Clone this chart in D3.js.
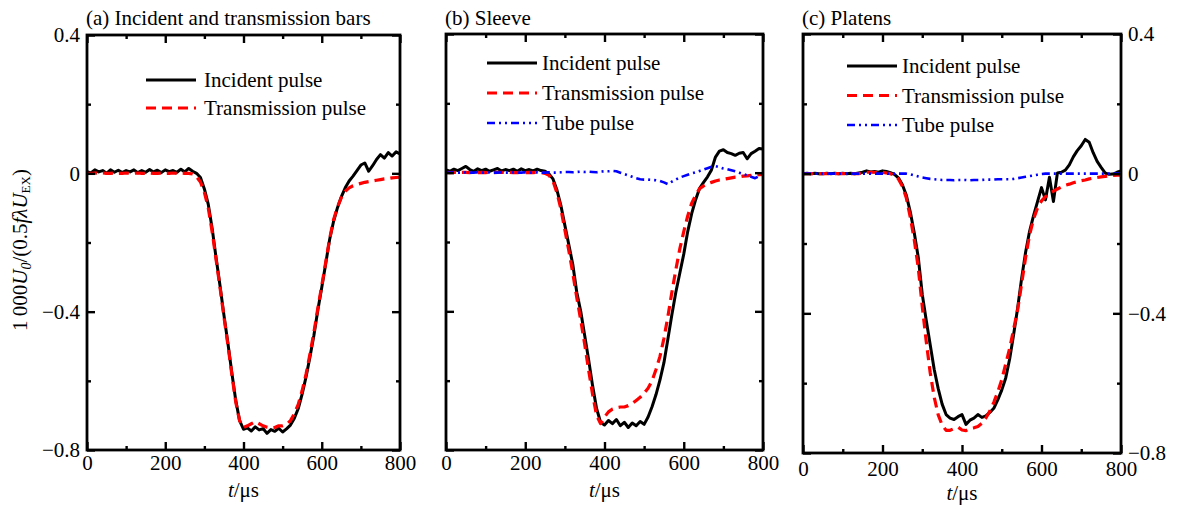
<!DOCTYPE html>
<html>
<head>
<meta charset="utf-8">
<script src="https://cdn.jsdelivr.net/npm/d3@7"></script>
<style>
  body { margin: 0; background: #fff; }
  svg text { font-family: "Liberation Serif", "DejaVu Serif", serif; }
</style>
</head>
<body>
<svg id="chart" width="1181" height="508"></svg>
<script>
// sample times (µs), one value every 10 µs
var times = d3.range(0, 801, 10);

// (a) incident and transmission bars
var aIncident = [
  0.005, 0.001, 0.010, 0.004, 0.008, 0.000, 0.010, 0.003, 0.009,
  0.002, 0.008, 0.004, 0.010, 0.002, 0.008, 0.003, 0.011, 0.004,
  0.009, 0.002, 0.010, 0.005, 0.008, 0.003, 0.012, 0.004, 0.014,
  0.006, 0.000, -0.012, -0.045, -0.090, -0.160, -0.245, -0.325, -0.410,
  -0.490, -0.575, -0.655, -0.715, -0.740, -0.736, -0.745, -0.733, -0.742,
  -0.738, -0.752, -0.741, -0.746, -0.737, -0.748, -0.739, -0.728, -0.708,
  -0.680, -0.638, -0.588, -0.530, -0.468, -0.395, -0.330, -0.262, -0.192,
  -0.140, -0.100, -0.068, -0.042, -0.022, -0.008, 0.008, 0.024, 0.030,
  0.006, 0.022, 0.040, 0.054, 0.044, 0.060, 0.050, 0.062, 0.056
];
var aTransmission = [
  0.000, 0.000, 0.001, 0.000, 0.001, 0.000, 0.000, 0.001, 0.000,
  0.000, 0.001, 0.000, 0.000, 0.001, 0.000, 0.000, 0.001, 0.000,
  0.000, 0.001, 0.000, 0.000, 0.001, 0.000, 0.001, 0.000, 0.000,
  -0.002, -0.010, -0.025, -0.055, -0.100, -0.170, -0.250, -0.330, -0.415,
  -0.495, -0.580, -0.660, -0.715, -0.735, -0.730, -0.724, -0.718, -0.724,
  -0.730, -0.734, -0.736, -0.735, -0.730, -0.730, -0.726, -0.715, -0.695,
  -0.668, -0.628, -0.580, -0.522, -0.460, -0.390, -0.325, -0.258, -0.190,
  -0.135, -0.098, -0.070, -0.052, -0.042, -0.036, -0.032, -0.029, -0.026,
  -0.024, -0.022, -0.020, -0.018, -0.016, -0.015, -0.013, -0.012, -0.011
];

// (b) sleeve
var bIncident = [
  0.008, 0.004, 0.010, 0.006, 0.012, 0.018, 0.009, 0.004, 0.011,
  0.006, 0.010, 0.004, 0.008, 0.012, 0.005, 0.009, 0.006, 0.010,
  0.004, 0.011, 0.006, 0.009, 0.005, 0.010, 0.006, 0.004, -0.004,
  -0.018, -0.050, -0.095, -0.152, -0.208, -0.265, -0.345, -0.400, -0.470,
  -0.540, -0.615, -0.680, -0.720, -0.728, -0.715, -0.724, -0.712, -0.730,
  -0.720, -0.735, -0.722, -0.730, -0.718, -0.726, -0.705, -0.675, -0.640,
  -0.598, -0.548, -0.480, -0.410, -0.345, -0.290, -0.235, -0.170, -0.118,
  -0.078, -0.045, -0.028, -0.012, 0.008, 0.045, 0.062, 0.066, 0.058,
  0.055, 0.050, 0.056, 0.058, 0.040, 0.055, 0.062, 0.070, 0.068
];
var bTransmission = [
  0.001, 0.000, 0.001, 0.000, 0.001, 0.001, 0.000, 0.001, 0.000,
  0.001, 0.000, 0.001, 0.000, 0.001, 0.001, 0.000, 0.001, 0.000,
  0.000, 0.001, 0.000, 0.001, 0.000, 0.001, 0.000, -0.002, -0.008,
  -0.024, -0.058, -0.105, -0.165, -0.225, -0.290, -0.360, -0.425, -0.495,
  -0.570, -0.640, -0.700, -0.724, -0.705, -0.690, -0.682, -0.678, -0.676,
  -0.676, -0.672, -0.666, -0.657, -0.648, -0.636, -0.622, -0.600, -0.568,
  -0.530, -0.478, -0.415, -0.345, -0.280, -0.220, -0.170, -0.125, -0.088,
  -0.065, -0.046, -0.038, -0.032, -0.028, -0.024, -0.021, -0.019, -0.017,
  -0.015, -0.013, -0.012, -0.010, -0.009, -0.008, -0.007, -0.006, -0.005
];
var bTube = [
  0.000, 0.000, 0.001, 0.000, 0.000, 0.001, 0.000, 0.000, 0.001,
  0.000, 0.000, 0.001, 0.000, 0.000, 0.001, 0.000, 0.000, 0.001,
  0.000, 0.000, 0.001, 0.000, 0.000, 0.001, 0.000, 0.000, 0.001,
  0.000, 0.000, 0.001, 0.002, 0.002, 0.001, 0.002, 0.003, 0.002,
  0.003, 0.002, 0.001, 0.003, 0.004, 0.004, 0.005, 0.004, 0.000,
  -0.004, -0.008, -0.012, -0.016, -0.019, -0.020, -0.020, -0.021, -0.022,
  -0.024, -0.028, -0.033, -0.026, -0.020, -0.014, -0.010, -0.006, -0.002,
  0.001, 0.005, 0.009, 0.013, 0.017, 0.019, 0.016, 0.012, 0.010,
  0.007, 0.004, 0.000, -0.004, -0.008, -0.012, -0.016, -0.010, -0.004
];

// (c) platens
var cIncident = [
  0.000, 0.001, 0.000, 0.001, 0.000, 0.000, 0.001, 0.000, 0.001,
  0.000, 0.001, 0.000, 0.001, 0.000, 0.002, 0.004, 0.008, 0.005,
  0.006, 0.004, 0.008, 0.006, 0.003, -0.002, -0.012, -0.032, -0.062,
  -0.110, -0.170, -0.240, -0.345, -0.420, -0.490, -0.560, -0.615, -0.660,
  -0.690, -0.700, -0.704, -0.696, -0.690, -0.718, -0.706, -0.700, -0.690,
  -0.698, -0.694, -0.684, -0.672, -0.648, -0.620, -0.585, -0.530, -0.460,
  -0.385, -0.300, -0.225, -0.165, -0.120, -0.080, -0.040, -0.075, -0.010,
  -0.080, 0.002, 0.004, 0.010, 0.025, 0.048, 0.066, 0.080, 0.098,
  0.090, 0.060, 0.035, 0.018, 0.002, -0.002, -0.001, 0.004, 0.008
];
var cTransmission = [
  0.000, 0.000, 0.000, 0.000, 0.000, 0.000, 0.000, 0.000, 0.000,
  0.000, 0.000, 0.000, 0.000, 0.000, 0.000, 0.002, 0.004, 0.004,
  0.004, 0.003, 0.004, 0.002, 0.000, -0.004, -0.015, -0.036, -0.070,
  -0.125, -0.190, -0.270, -0.380, -0.480, -0.570, -0.640, -0.690, -0.720,
  -0.735, -0.735, -0.730, -0.726, -0.734, -0.736, -0.730, -0.728, -0.724,
  -0.715, -0.700, -0.680, -0.655, -0.625, -0.590, -0.545, -0.500, -0.445,
  -0.390, -0.315, -0.240, -0.175, -0.130, -0.098, -0.078, -0.066, -0.058,
  -0.050, -0.044, -0.038, -0.033, -0.030, -0.026, -0.023, -0.020, -0.018,
  -0.015, -0.013, -0.011, -0.009, -0.008, -0.006, -0.005, -0.004, -0.004
];
var cTube = [
  0.000, 0.000, 0.000, 0.000, 0.000, 0.000, 0.000, 0.000, 0.000,
  0.000, 0.000, 0.000, 0.000, 0.000, 0.000, 0.000, 0.000, 0.000,
  0.000, 0.000, 0.000, 0.000, 0.000, 0.000, 0.000, 0.000, 0.000,
  -0.002, -0.005, -0.008, -0.011, -0.013, -0.015, -0.016, -0.017, -0.018,
  -0.018, -0.018, -0.019, -0.018, -0.018, -0.018, -0.019, -0.018, -0.018,
  -0.018, -0.017, -0.017, -0.017, -0.016, -0.016, -0.016, -0.016, -0.015,
  -0.013, -0.011, -0.009, -0.007, -0.005, -0.003, -0.001, 0.000, 0.000,
  0.000, 0.000, 0.000, 0.000, 0.000, 0.000, 0.000, 0.000, 0.000,
  0.000, 0.000, 0.000, 0.000, 0.000, 0.000, 0.000, 0.000, 0.000
];

var xMajor = [0, 200, 400, 600, 800];
var xMinor = [100, 300, 500, 700];
var yMajor = [0.4, 0, -0.4, -0.8];
var yMinor = [0.2, -0.2, -0.6];

var panelTitles = ['(a) Incident and transmission bars', '(b) Sleeve', '(c) Platens'];
var legendLabels = ['Incident pulse', 'Transmission pulse', 'Tube pulse'];

/**
 * Layout and styles
 */
var FONT = 21;
var SERIF = '"Liberation Serif", "DejaVu Serif", serif';

var styles = [
  { color: '#000', width: 3, dash: null },
  { color: '#ff0000', width: 3.2, dash: '10,6' },
  { color: '#0000ff', width: 2.6, dash: '8,4,2,4,2,4' }
];

var panels = [
  { title: panelTitles[0], left: 87, top: 35, right: 400, bottom: 450, xPad: 5,
    series: [aIncident, aTransmission], yLabels: 'left',
    legend: { x: 146, y: 80, step: 28 } },
  { title: panelTitles[1], left: 446, top: 34, right: 763, bottom: 450, xPad: 5,
    series: [bIncident, bTransmission, bTube], yLabels: null,
    legend: { x: 487, y: 63, step: 30 } },
  { title: panelTitles[2], left: 803, top: 34, right: 1121, bottom: 453, xPad: 8,
    series: [cIncident, cTransmission, cTube], yLabels: 'right',
    legend: { x: 847, y: 66, step: 29.5 } }
];

var svg = d3.select('#chart');

var fmtY = function (d) {
  return d === 0 ? '0' : d3.format('.1f')(d);
};

function styleAxis(g) {
  g.attr('font-family', SERIF).attr('font-size', FONT);
  g.select('.domain').remove();
  g.selectAll('.tick line').attr('stroke', '#000').attr('stroke-width', 2.4);
  g.selectAll('.tick text').attr('fill', '#000');
}

panels.forEach(function (p, pi) {
  var x = d3.scaleLinear().domain([0, 800]).range([p.left, p.right]);
  var y = d3.scaleLinear().domain([-0.8, 0.4]).range([p.bottom, p.top]);

  var g = svg.append('g').attr('class', 'panel-' + pi)
    .attr('font-family', SERIF).attr('font-size', FONT);

  var clipId = 'clip-' + pi;
  g.append('clipPath').attr('id', clipId)
    .append('rect')
    .attr('x', p.left).attr('y', p.top)
    .attr('width', p.right - p.left).attr('height', p.bottom - p.top);

  // curves
  var line = d3.line()
    .x(function (d, i) { return x(times[i]); })
    .y(function (d) { return y(d); });

  p.series.forEach(function (s, si) {
    var st = styles[si];
    g.append('path')
      .datum(s)
      .attr('clip-path', 'url(#' + clipId + ')')
      .attr('fill', 'none')
      .attr('stroke', st.color)
      .attr('stroke-width', st.width)
      .attr('stroke-linejoin', 'round')
      .attr('stroke-dasharray', st.dash)
      .attr('d', line);
  });

  // axes: major + minor ticks drawn inward on all four sides
  styleAxis(g.append('g').attr('transform', 'translate(0,' + p.bottom + ')')
    .call(d3.axisBottom(x).tickValues(xMajor).tickSizeInner(-8).tickSizeOuter(0).tickPadding(p.xPad)));
  styleAxis(g.append('g').attr('transform', 'translate(0,' + p.bottom + ')')
    .call(d3.axisBottom(x).tickValues(xMinor).tickSizeInner(-4).tickSizeOuter(0).tickFormat('')));
  styleAxis(g.append('g').attr('transform', 'translate(0,' + p.top + ')')
    .call(d3.axisTop(x).tickValues(xMajor).tickSizeInner(-8).tickSizeOuter(0).tickFormat('')));
  styleAxis(g.append('g').attr('transform', 'translate(0,' + p.top + ')')
    .call(d3.axisTop(x).tickValues(xMinor).tickSizeInner(-4).tickSizeOuter(0).tickFormat('')));

  styleAxis(g.append('g').attr('transform', 'translate(' + p.left + ',0)')
    .call(d3.axisLeft(y).tickValues(yMajor).tickSizeInner(-8).tickSizeOuter(0).tickPadding(7)
      .tickFormat(p.yLabels === 'left' ? fmtY : '')));
  styleAxis(g.append('g').attr('transform', 'translate(' + p.left + ',0)')
    .call(d3.axisLeft(y).tickValues(yMinor).tickSizeInner(-4).tickSizeOuter(0).tickFormat('')));

  styleAxis(g.append('g').attr('transform', 'translate(' + p.right + ',0)')
    .call(d3.axisRight(y).tickValues(yMajor).tickSizeInner(-8).tickSizeOuter(0).tickPadding(7)
      .tickFormat(p.yLabels === 'right' ? fmtY : '')));
  styleAxis(g.append('g').attr('transform', 'translate(' + p.right + ',0)')
    .call(d3.axisRight(y).tickValues(yMinor).tickSizeInner(-4).tickSizeOuter(0).tickFormat('')));

  // frame
  g.append('rect')
    .attr('x', p.left).attr('y', p.top)
    .attr('width', p.right - p.left).attr('height', p.bottom - p.top)
    .attr('fill', 'none').attr('stroke', '#000').attr('stroke-width', 2.8);

  // title
  g.append('text')
    .attr('x', p.left - 1).attr('y', 25)
    .text(p.title);

  // x label  t/µs
  var xl = g.append('text')
    .attr('x', (p.left + p.right) / 2).attr('y', p.bottom + 47)
    .attr('text-anchor', 'middle');
  xl.append('tspan').attr('font-style', 'italic').text('t');
  xl.append('tspan').text('/\u03bcs');

  // legend
  p.series.forEach(function (s, si) {
    var st = styles[si];
    var ly = p.legend.y + si * p.legend.step;
    g.append('line')
      .attr('x1', p.legend.x).attr('x2', p.legend.x + 50)
      .attr('y1', ly).attr('y2', ly)
      .attr('stroke', st.color)
      .attr('stroke-width', st.width)
      .attr('stroke-dasharray', st.dash);
    g.append('text')
      .attr('x', p.legend.x + (pi === 0 ? 58 : 55)).attr('y', ly + 7)
      .text(legendLabels[si]);
  });
});

// y axis label: 1 000U0/(0.5fλUEX)
var yl = svg.append('text')
  .attr('transform', 'translate(27,250) rotate(-90)')
  .attr('text-anchor', 'middle')
  .attr('font-family', SERIF)
  .attr('font-size', FONT);
yl.append('tspan').text('1\u2009000');
yl.append('tspan').attr('font-style', 'italic').text('U');
yl.append('tspan').attr('baseline-shift', '-25%').attr('font-size', 14).attr('font-style', 'italic').text('0');
yl.append('tspan').text('/(0.5');
yl.append('tspan').attr('font-style', 'italic').text('f\u03bbU');
yl.append('tspan').attr('baseline-shift', '-25%').attr('font-size', 13).text('EX');
yl.append('tspan').text(')');
</script>
</body>
</html>
